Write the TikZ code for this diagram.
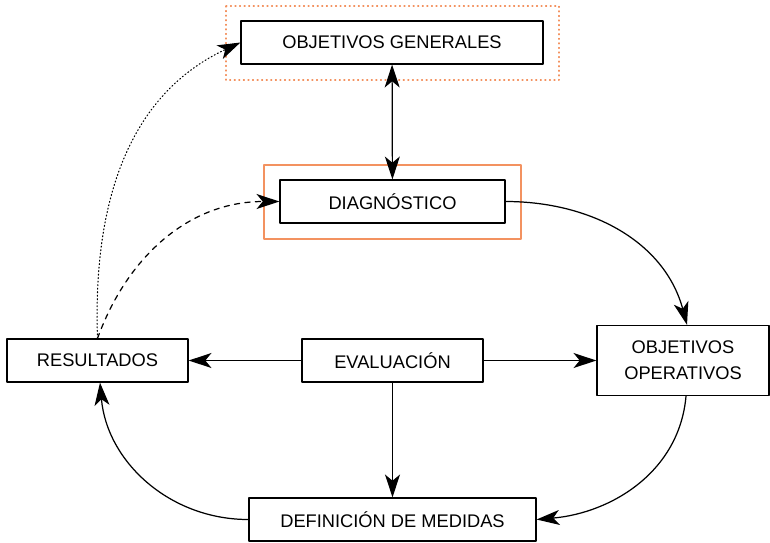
\documentclass[tikz,border=0pt]{standalone}
\usepackage{fontspec}
\setmainfont{Liberation Sans}
\usetikzlibrary{arrows.meta}
\definecolor{frameorange}{RGB}{243,146,96}

\begin{document}
\begin{tikzpicture}[line cap=round,line join=round,x=0.02cm,y=-0.02cm,
    box/.style={draw,line width=0.7pt,minimum height=0.86cm,font=\fontsize{10.4}{13}\selectfont,align=center,inner sep=0pt},
    tip/.tip={Stealth[length=13pt,width=8.5pt,inset=3.5pt]},
    conn/.style={line width=0.7pt,-tip}]
    \useasboundingbox (0,0) rectangle (770,542);

    \draw[frameorange,line width=0.6pt,dotted] (226,6) rectangle (559,80);
    \draw[frameorange,line width=0.8pt] (264,165) rectangle (521,239);

    \node[box,minimum width=6.04cm] (gen) at (392,42.5) {OBJETIVOS GENERALES};
    \node[box,minimum width=4.5cm] (diag) at (392.5,201.5) {DIAGNÓSTICO};
    \node[box,minimum width=3.62cm] (res) at (97.5,360.5) {RESULTADOS};
    \node[box,minimum width=3.62cm] (eval) at (392.5,360.5) {EVALUACIÓN};
    \node[box,minimum width=3.44cm,minimum height=1.4cm] (oper) at (683,360.5) {OBJETIVOS\\[2pt]OPERATIVOS};
    \node[box,minimum width=5.74cm] (def) at (392.5,519.5) {DEFINICIÓN DE MEDIDAS};

    \draw[conn,tip-tip] (gen) -- (diag);
    \draw[conn] (diag.east) to[out=0,in=105] ([xshift=0.08cm]oper.north);
    \foreach \t in {res,oper,def}
      \draw[conn] (eval) -- (\t);
    \draw[conn] ([xshift=0.06cm]oper.south) to[out=-95,in=5] (def.east);
    \draw[conn] (def.west) to[out=180,in=-85] ([xshift=0.05cm]res.south);
    \draw[conn,line width=0.6pt,dash pattern=on 0.6pt off 1.4pt] (res.north) to[out=92,in=205] (gen.west);
    \draw[conn,dashed] (res.north) to[out=70,in=180] (diag.west);
\end{tikzpicture}
\end{document}
